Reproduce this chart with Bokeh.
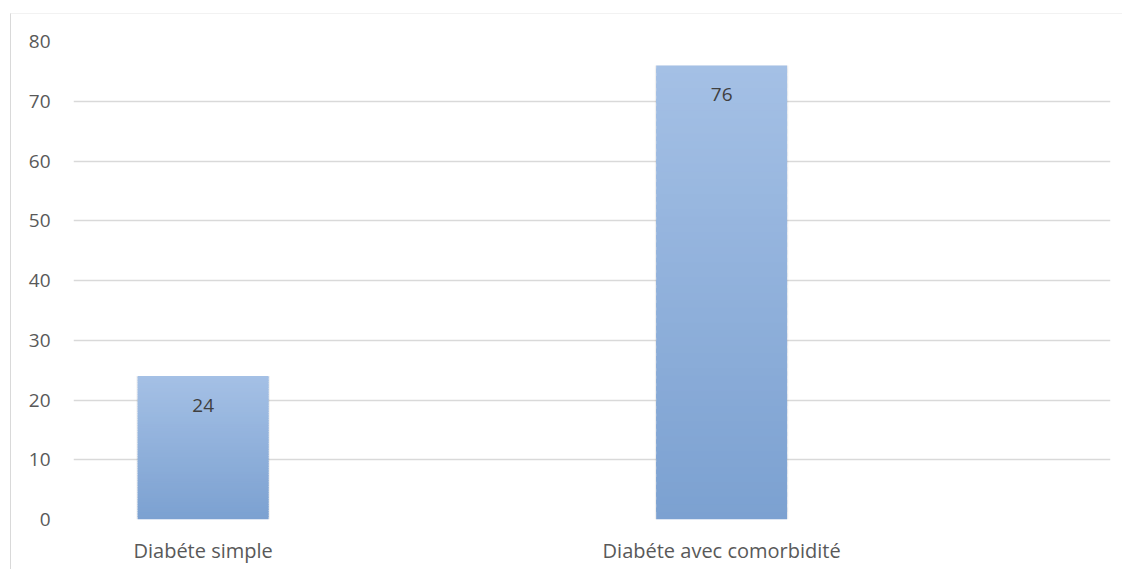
from bokeh.plotting import figure
from bokeh.models import FactorRange, Range1d, FixedTicker
from bokeh.core.properties import value
from bokeh.embed import file_html
from bokeh.resources import INLINE

# data
categories = ["Diabéte simple", " ", "Diabéte avec comorbidité", "  "]
bar_categories = ["Diabéte simple", "Diabéte avec comorbidité"]
bar_values = [24, 76]
y_ticks = [0, 10, 20, 30, 40, 50, 60, 70, 80]

TOP_RGB = (164, 192, 229)
BOT_RGB = (124, 161, 209)
N = 60

p = figure(width=1112, height=556, x_range=FactorRange(*categories, range_padding=0),
           y_range=Range1d(0, 80), output_backend="svg", toolbar_location=None,
           min_border_left=62, min_border_right=13, min_border_top=27, min_border_bottom=51,
           styles={"margin-left": "10px", "margin-top": "13px",
                   "border-left": "1px solid #d9d9d9", "border-top": "1px solid #f2f2f2"})
p.outline_line_color = None

# gradient bars built from slices of each value
xs, bottoms, tops, colors = [], [], [], []
for cat, v in zip(bar_categories, bar_values):
    for i in range(N):
        f = i / (N - 1)
        rgb = tuple(int(round(BOT_RGB[k] + (TOP_RGB[k] - BOT_RGB[k]) * f)) for k in range(3))
        xs.append(cat)
        bottoms.append(v * i / N)
        tops.append(min(v, v * (i + 1.6) / N))
        colors.append("#%02x%02x%02x" % rgb)

# faint shadow
p.vbar(x=bar_categories, top=bar_values, bottom=0, width=0.515, fill_color="#000000",
       fill_alpha=0.06, line_color=None)
p.vbar(x=xs, top=tops, bottom=bottoms, width=0.505, fill_color=colors, line_color=None)

p.text(x=bar_categories, y=bar_values, text=[str(v) for v in bar_values],
       text_align="center", text_baseline="middle", y_offset=29,
       text_font=value("Open Sans"), text_font_size="19px", text_color="#404040")

p.yaxis.ticker = FixedTicker(ticks=y_ticks)
p.yaxis.axis_line_color = None
p.yaxis.major_tick_line_color = None
p.yaxis.minor_tick_line_color = None
p.yaxis.major_label_standoff = 17
p.yaxis.major_label_text_font = "Open Sans"
p.yaxis.major_label_text_font_size = "19px"
p.yaxis.major_label_text_color = "#595959"

p.xaxis.axis_line_color = None
p.xaxis.major_tick_line_color = None
p.xaxis.minor_tick_line_color = None
p.xaxis.major_label_standoff = 11
p.xaxis.major_label_text_font = "Open Sans"
p.xaxis.major_label_text_font_size = "20px"
p.xaxis.major_label_text_color = "#595959"

p.xgrid.grid_line_color = None
p.ygrid.grid_line_color = "#d9d9d9"
p.ygrid.grid_line_width = 1.5
p.ygrid.ticker = FixedTicker(ticks=y_ticks)

open("out.html", "w").write(file_html(p, INLINE))
